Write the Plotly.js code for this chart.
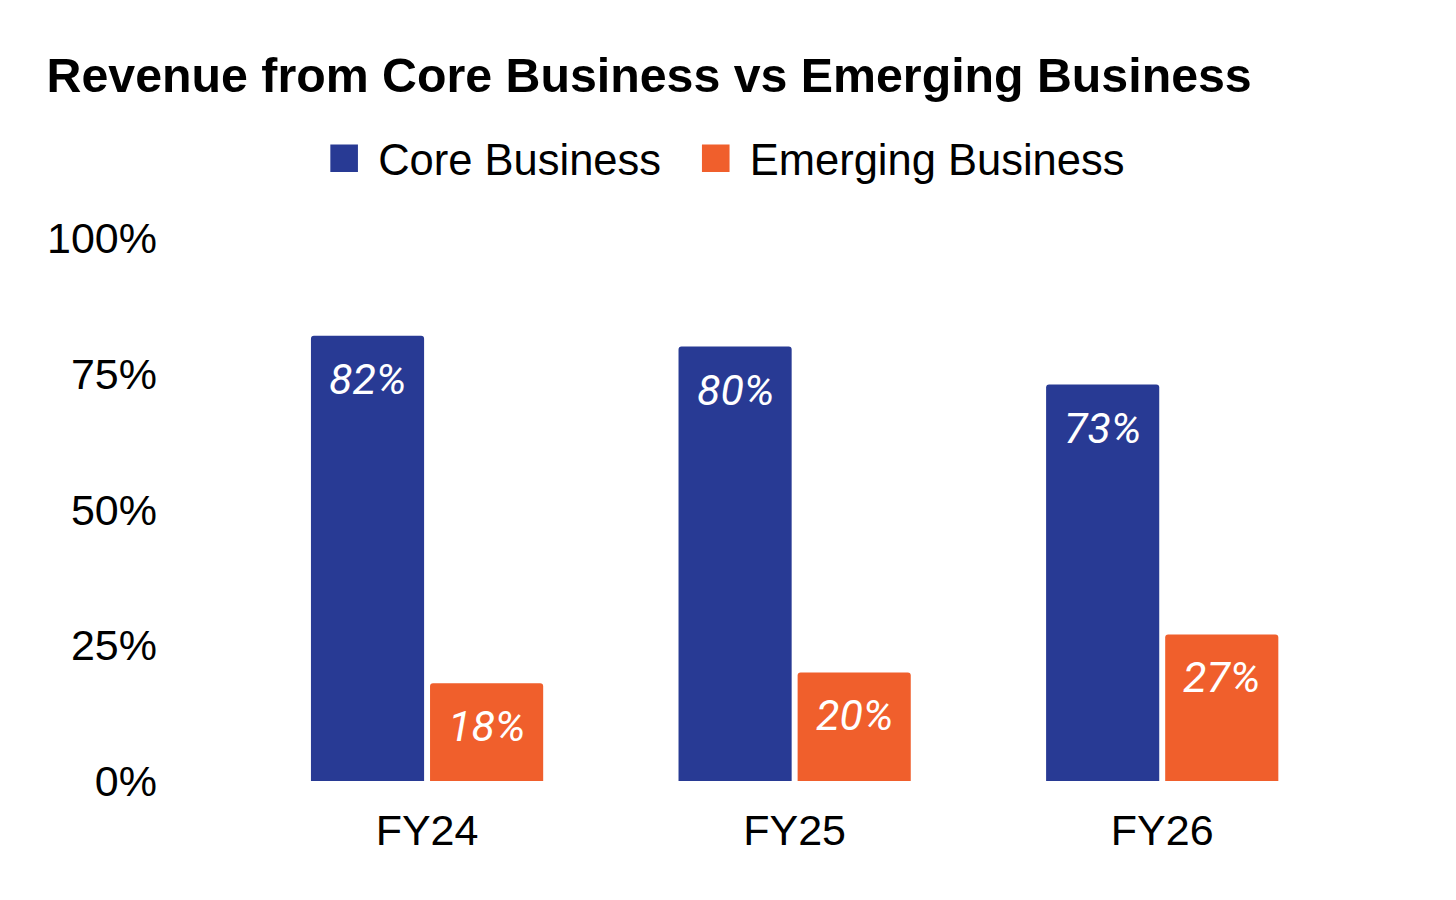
<!DOCTYPE html>
<html>
<head>
<meta charset="utf-8">
<script src="https://cdn.plot.ly/plotly-3.0.1.min.js"></script>
<style>
  html, body { margin: 0; padding: 0; background: #fff; }
  #chart { width: 1456px; height: 900px; }
</style>
</head>
<body>
<div id="chart"></div>
<script>
var years = ["FY24", "FY25", "FY26"];
var coreShare = [82, 80, 73];
var emergingShare = [18, 20, 27];
var seriesNames = ["Core Business", "Emerging Business"];
var yTicks = [0, 25, 50, 75, 100];
var yTickText = ["0%", "25%", "50%", "75%", "100%"];

var coreColor = "#283a94";
var emergingColor = "#f05f2c";
var axisFont = "Liberation Sans, Arial, sans-serif";
var labelFont = "Roboto, sans-serif";

var barGap = 0.352;
var groupGap = 0.05;

var core = {
    type: "bar",
    // trailing spaces widen the gap between the two legend entries
    name: seriesNames[0] + "\u00a0\u200a",
    x: years,
    y: coreShare,
    marker: { color: coreColor },
    hoverinfo: "skip"
};
var emerging = {
    type: "bar",
    name: seriesNames[1],
    x: years,
    y: emergingShare,
    marker: { color: emergingColor },
    hoverinfo: "skip"
};

// value labels sit a little below the top of each bar
var slot = (1 - barGap) / 2;
var notes = [];
[coreShare, emergingShare].forEach(function(vals, k){
    vals.forEach(function(v, i){
        notes.push({
            x: i + (k - 0.5) * slot,
            y: v,
            xref: "x",
            yref: "y",
            text: v + "%",
            showarrow: false,
            yanchor: "top",
            yshift: -16,
            font: { family: labelFont, size: 43, color: "#ffffff", style: "italic" }
        });
    });
});

var layout = {
    width: 1456,
    height: 900,
    paper_bgcolor: "#ffffff",
    plot_bgcolor: "#ffffff",
    margin: { l: 158, r: 110, t: 238, b: 119 },
    barmode: "group",
    bargap: barGap,
    bargroupgap: groupGap,
    barcornerradius: 3,
    title: {
        text: "<b>Revenue from Core Business vs Emerging Business</b>",
        font: { family: axisFont, size: 48.3, color: "#000000" },
        xref: "container",
        x: 0.032,
        xanchor: "left",
        yref: "container",
        y: 0.917,
        yanchor: "middle"
    },
    showlegend: true,
    legend: {
        orientation: "h",
        xref: "container",
        x: 0.4946,
        xanchor: "center",
        yref: "container",
        y: 0.824,
        yanchor: "middle",
        itemwidth: 58,
        font: { family: axisFont, size: 43.5, color: "#000000" }
    },
    xaxis: {
        type: "category",
        range: [-0.732, 2.5],
        showgrid: false,
        zeroline: false,
        showline: false,
        ticks: "",
        ticklabelstandoff: 20,
        tickfont: { family: axisFont, size: 43, color: "#000000" }
    },
    yaxis: {
        range: [0, 100],
        tickvals: yTicks,
        ticktext: yTickText,
        showgrid: false,
        zeroline: false,
        showline: false,
        ticks: "",
        tickfont: { family: axisFont, size: 43, color: "#000000" }
    },
    annotations: notes
};

Plotly.newPlot("chart", [core, emerging], layout, { displayModeBar: false, staticPlot: true }).then(function(){
    // bigger, square legend swatches
    document.querySelectorAll(".legend .legendpoints path").forEach(function(p){
        p.setAttribute("d", "M6,6H-6V-6H6Z");
        p.setAttribute("transform", (p.getAttribute("transform") || "") + " scale(2.3)");
    });
});
</script>
</body>
</html>
